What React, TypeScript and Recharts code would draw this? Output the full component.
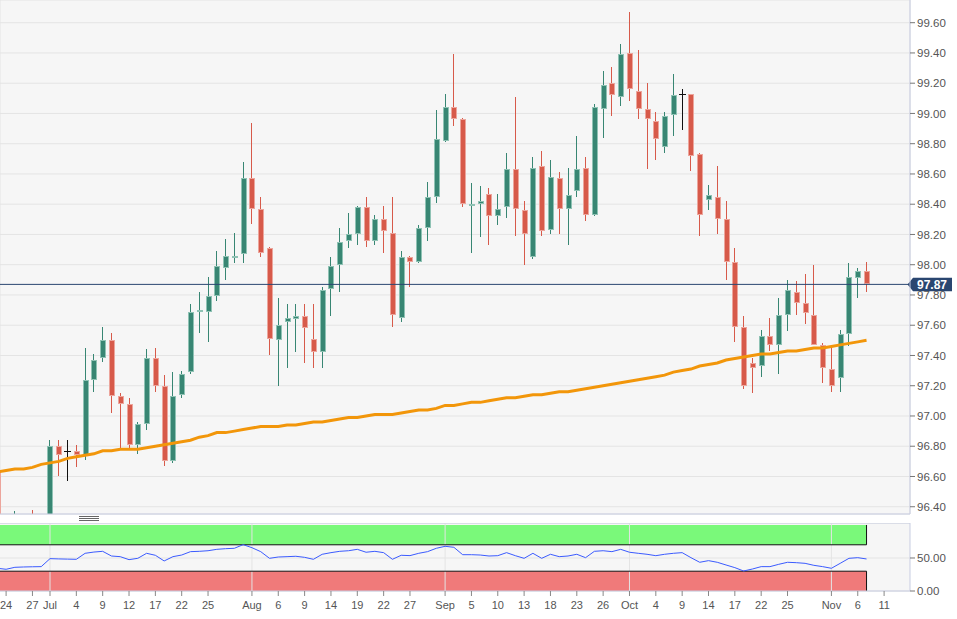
import React from 'react';
import { ComposedChart, Bar, Line, XAxis, YAxis, CartesianGrid, ReferenceLine, ReferenceArea } from 'recharts';

const dates = [
  'Jun 21', 'Jun 24', 'Jun 25', 'Jun 26', 'Jun 27', 'Jun 28',
  'Jul 1', 'Jul 2', 'Jul 3', 'Jul 4', 'Jul 5',
  'Jul 8', 'Jul 9', 'Jul 10', 'Jul 11', 'Jul 12',
  'Jul 15', 'Jul 16', 'Jul 17', 'Jul 18', 'Jul 19',
  'Jul 22', 'Jul 23', 'Jul 24', 'Jul 25', 'Jul 26',
  'Jul 29', 'Jul 30', 'Jul 31', 'Aug 1', 'Aug 2',
  'Aug 5', 'Aug 6', 'Aug 7', 'Aug 8', 'Aug 9',
  'Aug 12', 'Aug 13', 'Aug 14', 'Aug 15', 'Aug 16',
  'Aug 19', 'Aug 20', 'Aug 21', 'Aug 22', 'Aug 23',
  'Aug 26', 'Aug 27', 'Aug 28', 'Aug 29', 'Aug 30',
  'Sep 2', 'Sep 3', 'Sep 4', 'Sep 5', 'Sep 6',
  'Sep 9', 'Sep 10', 'Sep 11', 'Sep 12', 'Sep 13',
  'Sep 16', 'Sep 17', 'Sep 18', 'Sep 19', 'Sep 20',
  'Sep 23', 'Sep 24', 'Sep 25', 'Sep 26', 'Sep 27',
  'Sep 30', 'Oct 1', 'Oct 2', 'Oct 3', 'Oct 4',
  'Oct 7', 'Oct 8', 'Oct 9', 'Oct 10', 'Oct 11',
  'Oct 14', 'Oct 15', 'Oct 16', 'Oct 17', 'Oct 18',
  'Oct 21', 'Oct 22', 'Oct 23', 'Oct 24', 'Oct 25',
  'Oct 28', 'Oct 29', 'Oct 30', 'Oct 31', 'Nov 1',
  'Nov 4', 'Nov 5', 'Nov 6', 'Nov 7',
];

const opens = [
  96.63, 96.22, 96.18, 96.20, 96.25, 96.18,
  96.13, 96.80, 96.77, 96.77, 96.74,
  97.24, 97.38, 97.50, 97.13, 97.08,
  96.81, 96.95, 97.38, 97.20, 96.70,
  97.14, 97.29, 97.69, 97.69, 97.79,
  97.98, 98.05, 98.07, 98.57, 98.37,
  98.11, 97.50, 97.62, 97.64, 97.66,
  97.51, 97.42, 97.84, 98.00, 98.16,
  98.20, 98.38, 98.16, 98.30, 98.21,
  97.65, 98.05, 98.02, 98.24, 98.45,
  98.82, 99.04, 98.96, 98.39, 98.40,
  98.47, 98.32, 98.38, 98.63, 98.36,
  98.05, 98.65, 98.23, 98.57, 98.37,
  98.49, 98.64, 98.33, 99.03, 99.20,
  99.11, 99.40, 99.15, 99.03, 98.95,
  98.78, 98.99, 99.13, 99.13, 98.73,
  98.43, 98.45, 98.30, 98.02, 97.59,
  97.35, 97.33, 97.53, 97.47, 97.67,
  97.82, 97.75, 97.67, 97.47, 97.31,
  97.25, 97.54, 97.91, 97.96,
];

const highs = [
  96.70, 96.30, 96.37, 96.32, 96.38, 96.30,
  96.84, 96.84, 96.84, 96.81, 97.45,
  97.41, 97.59, 97.55, 97.15, 97.12,
  96.96, 97.44, 97.45, 97.27, 97.29,
  97.30, 97.74, 97.82, 97.92, 98.09,
  98.17, 98.21, 98.68, 98.94, 98.45,
  98.12, 97.78, 97.74, 97.74, 97.74,
  97.74, 97.85, 98.05, 98.24, 98.34,
  98.39, 98.45, 98.33, 98.39, 98.45,
  98.09, 98.06, 98.26, 98.55, 99.02,
  99.13, 99.39, 98.97, 98.54, 98.52,
  98.51, 98.47, 98.74, 99.11, 98.42,
  98.71, 98.75, 98.69, 98.61, 98.64,
  98.85, 98.71, 99.06, 99.28, 99.31,
  99.46, 99.67, 99.42, 99.20, 99.01,
  99.01, 99.26, 99.16, 99.13, 98.74,
  98.53, 98.65, 98.42, 98.11, 97.66,
  97.38, 97.57, 97.65, 97.78, 97.90,
  97.89, 97.94, 98.00, 97.48, 97.47,
  97.57, 98.01, 97.98, 98.02,
];

const lows = [
  96.10, 96.10, 95.84, 96.05, 96.05, 96.00,
  96.10, 96.60, 96.57, 96.66, 96.71,
  97.16, 97.36, 97.02, 96.79, 96.79,
  96.75, 96.91, 97.16, 96.67, 96.69,
  97.12, 97.28, 97.55, 97.49, 97.76,
  97.90, 98.01, 98.01, 98.27, 98.05,
  97.40, 97.20, 97.32, 97.42, 97.35,
  97.32, 97.32, 97.66, 97.82, 98.11,
  98.13, 98.12, 98.13, 98.08, 97.59,
  97.62, 97.85, 98.01, 98.16, 98.41,
  98.81, 98.92, 98.38, 98.08, 98.18,
  98.13, 98.26, 98.31, 98.19, 98.00,
  98.04, 98.19, 98.20, 98.20, 98.13,
  98.45, 98.29, 98.32, 98.84, 98.98,
  99.05, 99.08, 98.96, 98.63, 98.69,
  98.74, 98.85, 98.89, 98.62, 98.19,
  98.36, 98.20, 97.90, 97.49, 97.18,
  97.15, 97.26, 97.43, 97.28, 97.56,
  97.67, 97.61, 97.47, 97.22, 97.16,
  97.16, 97.46, 97.78, 97.82,
];

const closes = [
  96.20, 96.18, 96.20, 96.25, 96.18, 96.13,
  96.80, 96.74, 96.77, 96.74, 97.24,
  97.37, 97.50, 97.13, 97.08, 96.81,
  96.95, 97.38, 97.20, 96.70, 97.13,
  97.28, 97.69, 97.70, 97.79, 97.99,
  98.06, 98.06, 98.57, 98.37, 98.08,
  97.51, 97.60, 97.65, 97.66, 97.58,
  97.42, 97.83, 97.99, 98.15, 98.20,
  98.38, 98.16, 98.30, 98.22, 97.67,
  98.05, 98.02, 98.24, 98.45, 98.83,
  99.04, 98.96, 98.40, 98.40, 98.42,
  98.32, 98.37, 98.63, 98.37, 98.20,
  98.64, 98.22, 98.58, 98.37, 98.46,
  98.63, 98.33, 99.04, 99.19, 99.12,
  99.39, 99.16, 99.03, 98.96, 98.83,
  98.98, 99.12, 99.13, 98.72, 98.33,
  98.46, 98.30, 98.02, 97.59, 97.20,
  97.32, 97.53, 97.47, 97.67, 97.83,
  97.75, 97.68, 97.47, 97.32, 97.20,
  97.54, 97.92, 97.96, 97.87,
];

const sma = [
  96.63, 96.64, 96.65, 96.65, 96.66, 96.68, 96.69, 96.70, 96.72, 96.73,
  96.74, 96.75, 96.77, 96.77, 96.78, 96.78, 96.78, 96.79, 96.80, 96.81,
  96.82, 96.83, 96.84, 96.86, 96.87, 96.89, 96.89, 96.90, 96.91, 96.92,
  96.93, 96.93, 96.93, 96.94, 96.94, 96.95, 96.96, 96.96, 96.97, 96.98,
  96.99, 96.99, 97.00, 97.01, 97.01, 97.01, 97.02, 97.03, 97.04, 97.04,
  97.05, 97.07, 97.07, 97.08, 97.09, 97.09, 97.10, 97.11, 97.12, 97.12,
  97.13, 97.14, 97.14, 97.15, 97.16, 97.16, 97.17, 97.18, 97.19, 97.20,
  97.21, 97.22, 97.23, 97.24, 97.25, 97.26, 97.27, 97.29, 97.30, 97.31,
  97.33, 97.34, 97.35, 97.37, 97.38, 97.39, 97.40, 97.41, 97.41, 97.42,
  97.43, 97.43, 97.44, 97.45, 97.45, 97.46, 97.47, 97.48, 97.49, 97.50,
];

const rsi = [
  34.4, 32.9, 35.9, 36.4, 36.7, 36.9,
  49.0, 48.6, 48.3, 48.0, 57.1,
  59.0, 60.1, 53.0, 52.0, 47.5,
  49.5, 57.1, 54.1, 45.5, 52.0,
  54.5, 59.6, 60.1, 61.0, 63.1,
  64.1, 64.7, 70.2, 65.6, 59.6,
  49.5, 51.5, 52.0, 52.6, 51.0,
  48.0, 55.6, 58.1, 60.1, 61.0,
  63.1, 58.7, 60.1, 58.1, 48.0,
  54.1, 53.6, 57.1, 59.6, 64.7,
  67.7, 66.2, 55.0, 55.0, 54.5,
  53.0, 53.5, 58.1, 53.5, 49.5,
  57.1, 49.5, 55.6, 52.0, 53.0,
  55.6, 50.5, 60.1, 61.0, 59.6,
  63.1, 58.7, 57.1, 55.6, 53.5,
  55.6, 57.1, 58.1, 50.5, 43.5,
  46.0, 43.5, 39.4, 35.4, 30.3,
  33.3, 36.9, 36.9, 40.4, 43.5,
  42.9, 41.9, 38.9, 36.9, 34.4,
  41.9, 49.5, 50.5, 48.5,
];

const priceTicks = [96.4, 96.6, 96.8, 97.0, 97.2, 97.4, 97.6, 97.8, 98.0, 98.2, 98.4, 98.6, 98.8, 99.0, 99.2, 99.4, 99.6];
const rsiTicks = [0, 50];
const xTickIdx = [1, 4, 6, 9, 12, 15, 18, 21, 24, 29, 32, 35, 38, 41, 44, 47, 51, 54, 57, 60, 63, 66, 69, 72, 75, 78, 81, 84, 87, 90, 95, 98, 101];
const xTickLabels = ['24', '27', 'Jul', '4', '9', '12', '17', '22', '25', 'Aug', '6', '9', '14', '19', '22', '27', 'Sep', '5', '10', '13', '18', '23', '26', 'Oct', '4', '9', '14', '17', '22', '25', 'Nov', '6', '11'];
const monthIdx = [6, 29, 51, 72, 95];

const X_DOMAIN: [number, number] = [0.305, 103.95];
const PRICE_DOMAIN: [number, number] = [96.352, 99.75];
const RSI_DOMAIN: [number, number] = [0, 103];
const lastIdx = dates.length - 1;
const lastPrice = closes[lastIdx];

const data = dates.map((d, i) => ({
  i,
  date: d,
  open: opens[i],
  high: highs[i],
  low: lows[i],
  close: closes[i],
  range: [lows[i], highs[i]],
  sma: sma[i],
  rsi: rsi[i],
}));

const UP = '#388673';
const UP_EDGE = '#8fc2b4';
const DOWN = '#d75a4a';
const DOWN_EDGE = '#eca59c';
const AXIS = '#c8cde2';
const GRID = '#e4e4e4';
const BG = '#f6f6f6';
const NAVY = '#2a4670';

const Candle = (props: any) => {
  const { x, y, width, height, payload } = props;
  if (x == null || y == null || !payload) return null;
  const { open, close, high, low } = payload;
  const top = Math.min(y, y + height);
  const h = Math.abs(height);
  const span = high - low || 1;
  const pix = (v: number) => top + ((high - v) / span) * h;
  const cx = x + width / 2;
  const fl = Math.floor(cx);
  const yHigh = Math.round(pix(high));
  const yLow = Math.round(pix(low));
  if (open === close) {
    const yo = Math.round(pix(open));
    return (
      <g>
        <rect x={fl} y={yHigh} width={1} height={Math.max(1, yLow - yHigh)} fill="#111" />
        <rect x={fl - 3} y={yo} width={7} height={1} fill="#111" />
      </g>
    );
  }
  const up = close > open;
  const main = up ? UP : DOWN;
  const edge = up ? UP_EDGE : DOWN_EDGE;
  const bTop = Math.round(pix(Math.max(open, close)));
  let bBot = Math.round(pix(Math.min(open, close)));
  if (bBot - bTop < 2) bBot = bTop + 2;
  const bh = bBot - bTop;
  return (
    <g>
      <rect x={fl} y={yHigh} width={1} height={Math.max(1, yLow - yHigh)} fill={main} />
      <rect x={fl - 2} y={bTop} width={6} height={bh} fill={edge} />
      {bh > 2 && <rect x={fl - 1} y={bTop + 1} width={4} height={bh - 2} fill={main} />}
    </g>
  );
};

const PriceTag = (props: any) => {
  const vb = props.viewBox || {};
  const xr = (vb.x || 0) + (vb.width || 0);
  const yc = Math.round(vb.y || 0) + 0.5;
  return (
    <g>
      <path
        d={`M${xr - 2.5},${yc} L${xr + 3},${yc - 6.7} L${xr + 42},${yc - 6.7} L${xr + 42},${yc + 6.7} L${xr + 3},${yc + 6.7} Z`}
        fill={NAVY}
      />
      <text x={xr + 7} y={yc} dy="0.36em" fill="#ffffff" fontSize={12} fontWeight="bold">
        {lastPrice.toFixed(2)}
      </text>
    </g>
  );
};

const xLabel = (v: number) => {
  const k = xTickIdx.indexOf(v);
  return k >= 0 ? xTickLabels[k] : '';
};

export default function App() {
  return (
    <div
      style={{
        position: 'absolute',
        left: 0,
        top: 0,
        width: 957,
        height: 619,
        background: '#ffffff',
        fontFamily: '"Liberation Sans", Arial, Helvetica, sans-serif',
        overflow: 'hidden',
      }}
    >
      <div style={{ position: 'absolute', left: 0, top: 0 }}>
        <ComposedChart width={957} height={515} data={data} margin={{ top: 0, right: 0, bottom: 0, left: 0 }}>
          <CartesianGrid stroke={GRID} fill={BG} fillOpacity={1} />
          <XAxis
            type="number"
            dataKey="i"
            domain={X_DOMAIN}
            allowDataOverflow
            ticks={monthIdx}
            tick={false}
            tickLine={false}
            axisLine={{ stroke: AXIS }}
            height={1}
          />
          <YAxis
            orientation="right"
            width={47}
            type="number"
            domain={PRICE_DOMAIN}
            allowDataOverflow
            ticks={priceTicks}
            interval={0}
            tickFormatter={(v: number) => v.toFixed(2)}
            tick={{ fill: '#555', fontSize: 11.5 }}
            tickLine={{ stroke: '#777' }}
            tickSize={5}
            tickMargin={2}
            axisLine={{ stroke: AXIS }}
          />
          <Line
            dataKey="sma"
            stroke="#f2960a"
            strokeWidth={3}
            dot={false}
            activeDot={false}
            isAnimationActive={false}
          />
          <Bar dataKey="range" shape={<Candle />} isAnimationActive={false} />
          <ReferenceLine y={lastPrice} stroke={NAVY} strokeWidth={1} label={<PriceTag />} />
        </ComposedChart>
      </div>

      <svg style={{ position: 'absolute', left: 79, top: 516 }} width={20} height={6}>
        <line x1={0} x2={20} y1={0.5} y2={0.5} stroke="#666" strokeWidth={1} />
        <line x1={0} x2={20} y1={2.5} y2={2.5} stroke="#666" strokeWidth={1} />
        <line x1={0} x2={20} y1={4.5} y2={4.5} stroke="#666" strokeWidth={1} />
      </svg>

      <div style={{ position: 'absolute', left: 0, top: 523 }}>
        <ComposedChart width={957} height={96} data={data} margin={{ top: 0, right: 0, bottom: 0, left: 0 }}>
          <CartesianGrid stroke={GRID} fill={BG} fillOpacity={1} vertical={false} />
          <XAxis
            type="number"
            dataKey="i"
            domain={X_DOMAIN}
            allowDataOverflow
            ticks={xTickIdx}
            interval={0}
            tickFormatter={xLabel}
            tick={{ fill: '#555', fontSize: 11 }}
            tickLine={{ stroke: '#888' }}
            tickSize={5}
            tickMargin={5}
            axisLine={{ stroke: AXIS }}
            height={28}
          />
          <YAxis
            orientation="right"
            width={47}
            type="number"
            domain={RSI_DOMAIN}
            allowDataOverflow
            ticks={rsiTicks}
            interval={0}
            tickFormatter={(v: number) => v.toFixed(2)}
            tick={{ fill: '#555', fontSize: 11.5 }}
            tickLine={{ stroke: '#777' }}
            tickSize={5}
            tickMargin={2}
            axisLine={{ stroke: AXIS }}
          />
          {monthIdx.map((m) => (
            <ReferenceLine key={m} x={m} stroke={GRID} />
          ))}
          <ReferenceLine y={RSI_DOMAIN[1]} stroke={AXIS} />
          <ReferenceArea x2={lastIdx} y1={70} y2={100} fill="#7af97a" fillOpacity={1} stroke="none" />
          <ReferenceArea x2={lastIdx} y1={0} y2={30} fill="#f07a7a" fillOpacity={1} stroke="none" />
          <ReferenceLine segment={[{ x: X_DOMAIN[0], y: 70 }, { x: lastIdx, y: 70 }]} stroke="#111" />
          <ReferenceLine segment={[{ x: lastIdx, y: 70 }, { x: lastIdx, y: 100 }]} stroke="#111" />
          <ReferenceLine segment={[{ x: X_DOMAIN[0], y: 30 }, { x: lastIdx, y: 30 }]} stroke="#111" />
          <ReferenceLine segment={[{ x: lastIdx, y: 0 }, { x: lastIdx, y: 30 }]} stroke="#111" />
          <Line
            dataKey="rsi"
            stroke="#3b5bff"
            strokeWidth={1}
            dot={false}
            activeDot={false}
            isAnimationActive={false}
          />
        </ComposedChart>
      </div>
    </div>
  );
}
